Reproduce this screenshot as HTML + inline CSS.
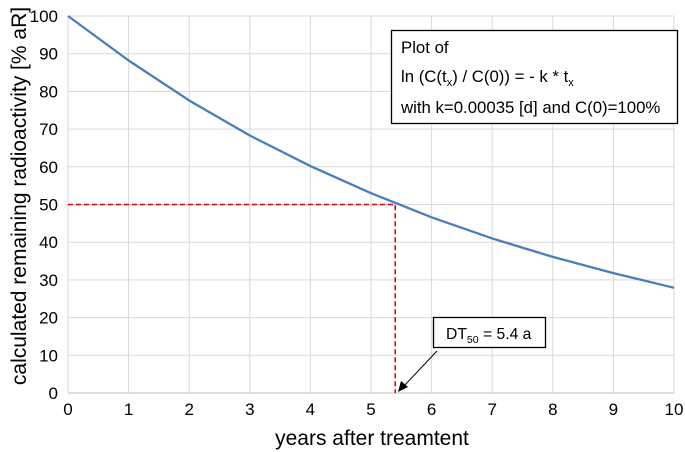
<!DOCTYPE html>
<html><head><meta charset="utf-8"><style>
body{margin:0;background:#fff;}
svg{display:block;font-family:"Liberation Sans",Arial,sans-serif;}
</style></head><body>
<svg id="chart" width="685" height="452" viewBox="0 0 685 452">
<g id="grid"></g>
<g id="ticks"></g>
<g id="series"></g>
<text transform="translate(26,196) rotate(-90)" text-anchor="middle" font-size="21">calculated remaining radioactivity [% aR]</text>
<text x="372" y="445" text-anchor="middle" font-size="21">years after treamtent</text>
<g>
<rect x="391.5" y="30.5" width="286" height="93" fill="#fff" stroke="#000" stroke-width="1.3"/>
<text x="401" y="53" font-size="16.8">Plot of</text>
<text x="401" y="82" font-size="16.8">ln (C(t<tspan font-size="11" dy="4">x</tspan><tspan dy="-4">) / C(0)) = - k * t</tspan><tspan font-size="11" dy="4">x</tspan></text>
<text x="401" y="113" font-size="16.8">with k=0.00035 [d] and C(0)=100%</text>
</g>
<g>
<rect x="433.5" y="317.5" width="112" height="30" fill="#fff" stroke="#000" stroke-width="1.3"/>
<text x="446" y="339" font-size="15.7">DT<tspan font-size="10.5" dy="4">50</tspan><tspan dy="-4"> = 5.4 a</tspan></text>
<line x1="437" y1="351" x2="403" y2="387" stroke="#000" stroke-width="1"/>
<polygon points="398,392 401,381 408,387" fill="#000"/>
</g>
</svg>
<script>
const xTicks=[0,1,2,3,4,5,6,7,8,9,10];
const yTicks=[0,10,20,30,40,50,60,70,80,90,100];
const years=[0,1,2,3,4,5,6,7,8,9,10];
const remaining=[100,88.2,77.6,68.3,60.2,53,46.6,41,36.1,31.8,27.9];
const dt50=[5.4];
const halfLevel=[50];
const ns="http://www.w3.org/2000/svg";
const X=v=>68+v*60.6, Y=v=>393-v*3.77;
function mk(t,a,p){const e=document.createElementNS(ns,t);for(const k in a)e.setAttribute(k,a[k]);p.appendChild(e);return e;}
const g=document.getElementById('grid'),tk=document.getElementById('ticks'),s=document.getElementById('series');
xTicks.forEach(v=>{const l=mk('line',{x1:X(v),x2:X(v),y1:Y(100),y2:Y(0),stroke:'#d9d9d9','stroke-width':1},g);


const t=mk('text',{x:X(v),y:415,'text-anchor':'middle','font-size':17},tk);t.textContent=v;

});
yTicks.forEach(v=>{const l=mk('line',{x1:X(0),x2:X(10),y1:Y(v),y2:Y(v),stroke:'#d9d9d9','stroke-width':1},g);


const t=mk('text',{x:58,y:Y(v)+6,'text-anchor':'end','font-size':17},tk);t.textContent=v;

});
const ax=mk('line',{x1:X(0),x2:X(10),y1:Y(0),y2:Y(0),stroke:'#bfbfbf','stroke-width':1},g);


const hl=mk('polyline',{points:`${X(0)},${Y(halfLevel[0])} ${X(dt50[0])},${Y(halfLevel[0])} ${X(dt50[0])},${Y(0)}`,fill:'none',stroke:'#e00000','stroke-width':1.6,'stroke-dasharray':'5,3'},s);


const ln=mk('polyline',{points:years.map((v,i)=>X(v)+','+Y(remaining[i])).join(' '),fill:'none',stroke:'#4a7ebb','stroke-width':2.3,'stroke-linejoin':'round'},s);


</script>
</body></html>
